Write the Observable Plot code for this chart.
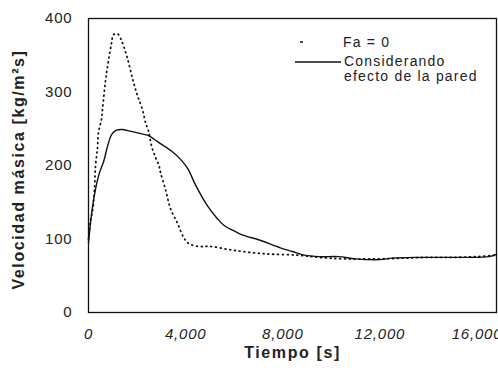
<!DOCTYPE html>
<html>
<head>
<meta charset="utf-8">
<script src="https://cdn.jsdelivr.net/npm/d3@7"></script>
<script src="https://cdn.jsdelivr.net/npm/@observablehq/plot@0.6"></script>
<style>
  html, body { margin: 0; padding: 0; background: #fff; }
  #wrap { position: relative; width: 498px; height: 378px; font-family: "Liberation Sans", Arial, sans-serif; }
  .leg { position: absolute; font-size: 14px; color: #222; line-height: 15px; white-space: nowrap; letter-spacing: 1.2px; }
</style>
</head>
<body>
<div id="wrap"></div>
<script>
// Series: Fa = 0 (dotted)
const faTime = [0, 80, 165, 250, 290, 370, 410, 530, 580, 700, 760, 870, 950, 1030, 1200, 1320, 1440, 1600, 1800, 1950, 2060, 2230, 2350, 2470, 2600, 2760, 2900, 2970, 3180, 3380, 3670, 3920, 4120, 4500, 5000, 5900, 7200, 8600, 9500, 10500, 12000, 13000, 14000, 15000, 16000, 16800];
const faValue = [100, 125, 138, 170, 200, 224, 245, 262, 278, 315, 330, 352, 367, 378, 379, 373, 363, 346, 320, 302, 291, 275, 258, 247, 226, 211, 200, 190, 166, 141, 121, 102, 94, 90, 90, 85, 80, 78, 75, 73, 73, 74, 75, 75, 76, 78];

// Series: Considerando efecto de la pared (solid)
const wallTime = [0, 150, 290, 450, 620, 800, 950, 1150, 1400, 1800, 2200, 2450, 2650, 3000, 3400, 3800, 4100, 4400, 4900, 5300, 5600, 6000, 6300, 7100, 7900, 8400, 8900, 9500, 10300, 11000, 12000, 12500, 13500, 14500, 15500, 16500, 16800];
const wallValue = [95, 140, 168, 190, 205, 228, 242, 248, 249, 246, 243, 241, 237, 229, 220, 208, 195, 174, 145, 128, 118, 111, 106, 98, 88, 83, 78, 76, 76, 73, 72, 74, 75, 75, 75, 76, 79];

const xTicks = [0, 4000, 8000, 12000, 16000];
const yTicks = [0, 100, 200, 300, 400];
const xLabel = "Tiempo [s]";
const yLabel = "Velocidad másica [kg/m²s]";
const legendLabels = ["Fa = 0", "Considerando", "efecto de la pared"];

const fa = faTime.map((t, i) => ({t, v: faValue[i]}));
const wall = wallTime.map((t, i) => ({t, v: wallValue[i]}));

const font = "'Liberation Sans', Arial, sans-serif";

const chart = Plot.plot({
  width: 498,
  height: 378,
  marginLeft: 88,
  marginRight: 2,
  marginTop: 18,
  marginBottom: 66,
  style: {fontFamily: font, background: "#fff", color: "#222"},
  x: {domain: [0, 16800]},
  y: {domain: [0, 400]},
  marks: [
    Plot.frame({stroke: "#111", strokeWidth: 1.3}),
    Plot.axisY(yTicks, {tickSize: 0, tickPadding: 16, fontSize: 15, fill: "#222", label: null}),
    Plot.axisX(xTicks, {tickSize: 0, tickPadding: 16, fontSize: 15, fontStyle: "italic", fill: "#222", label: null, tickFormat: d3.format(",")}),
    Plot.line(fa, {x: "t", y: "v", stroke: "#111", strokeWidth: 1.8, strokeDasharray: "0.8,4", strokeLinecap: "round", curve: "catmull-rom"}),
    Plot.line(wall, {x: "t", y: "v", stroke: "#111", strokeWidth: 1.4, curve: "catmull-rom"}),
    Plot.text([yLabel], {frameAnchor: "left", dx: -70, dy: 4, rotate: -90, textAnchor: "middle", fontSize: 16, fontWeight: "bold", fill: "#222"}),
    Plot.text([xLabel], {frameAnchor: "bottom", dy: 45, fontSize: 16, fontWeight: "bold", fill: "#222"})
  ]
});

const wrap = document.getElementById("wrap");
wrap.appendChild(chart);

// letter spacing to mimic the wide scanned lettering
d3.select(chart).selectAll("g[font-weight=bold] text").style("letter-spacing", "1.6px");
d3.select(chart).selectAll("g[aria-label$='tick label'] text").style("letter-spacing", "0.8px");

// Legend overlay
const ns = "http://www.w3.org/2000/svg";
const legSvg = document.createElementNS(ns, "svg");
legSvg.setAttribute("width", 498);
legSvg.setAttribute("height", 378);
legSvg.style.position = "absolute";
legSvg.style.left = "0px";
legSvg.style.top = "0px";
legSvg.style.pointerEvents = "none";
const dot = document.createElementNS(ns, "line");
dot.setAttribute("x1", 300); dot.setAttribute("x2", 303);
dot.setAttribute("y1", 42); dot.setAttribute("y2", 42);
dot.setAttribute("stroke", "#111"); dot.setAttribute("stroke-width", 1.5);
legSvg.appendChild(dot);
const ln = document.createElementNS(ns, "line");
ln.setAttribute("x1", 295); ln.setAttribute("x2", 341);
ln.setAttribute("y1", 62); ln.setAttribute("y2", 62);
ln.setAttribute("stroke", "#111"); ln.setAttribute("stroke-width", 1.4);
legSvg.appendChild(ln);
wrap.appendChild(legSvg);

const l1 = document.createElement("div");
l1.className = "leg"; l1.style.left = "343px"; l1.style.top = "35px"; l1.textContent = legendLabels[0];
wrap.appendChild(l1);
const l2 = document.createElement("div");
l2.className = "leg"; l2.style.left = "344px"; l2.style.top = "54px";
l2.innerHTML = legendLabels[1] + "<br>" + legendLabels[2];
wrap.appendChild(l2);
</script>
</body>
</html>
